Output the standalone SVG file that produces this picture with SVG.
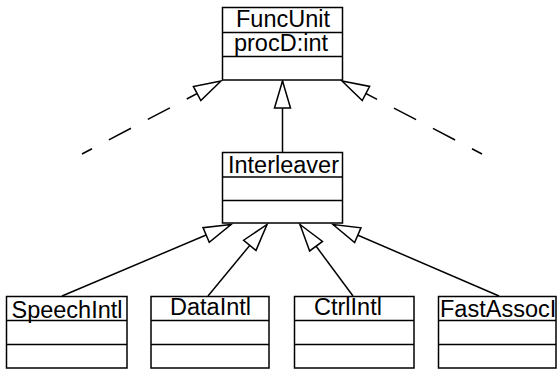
<svg xmlns="http://www.w3.org/2000/svg" width="557" height="372" viewBox="0 0 557 372">
  <style>
    .box { fill: #fff; stroke: #000; stroke-width: 1.5; }
    .div { stroke: #000; stroke-width: 1.5; }
    .lbl { font-family: "Liberation Sans", Arial, sans-serif; font-size: 23.5px; fill: #000; }
    .edge { fill: none; stroke: #000; stroke-width: 1.5; marker-end: url(#gen); }
    .dash { stroke-dasharray: 25 19; stroke-dashoffset: 13.7; }
  </style>
  <defs>
    <!-- hollow generalization triangle -->
    <marker id="gen" markerUnits="userSpaceOnUse" markerWidth="40" markerHeight="40" refX="0" refY="0" viewBox="-30 -20 40 40" orient="auto" overflow="visible">
      <path d="M0,0 L-27,-8 L-27,8 Z" fill="#fff" stroke="#000" stroke-width="1.5" stroke-linejoin="miter"/>
    </marker>
  </defs>

  <g id="connectors">
    <path class="edge" d="M282.5,152.5 L282.5,81"/>
    <path class="edge dash" d="M82,154 L221,81"/>
    <path class="edge dash" d="M482,154 L342,81"/>
    <path class="edge" d="M62,296 L231,224.5"/>
    <path class="edge" d="M208,296 L267,224.5"/>
    <path class="edge" d="M353,296 L300,224.5"/>
    <path class="edge" d="M499,296 L333,224.5"/>
  </g>

  <g id="FuncUnit">
    <rect class="box" x="222.5" y="7.5" width="120" height="72.5"/>
    <line class="div" x1="222.5" y1="32.5" x2="342.5" y2="32.5"/>
    <line class="div" x1="222.5" y1="56.5" x2="342.5" y2="56.5"/>
    <text class="lbl" x="283" y="27" text-anchor="middle">FuncUnit</text>
    <text class="lbl" x="281" y="51" text-anchor="middle">procD:int</text>
  </g>

  <g id="Interleaver">
    <rect class="box" x="222.5" y="152.5" width="120" height="70.5"/>
    <line class="div" x1="222.5" y1="177" x2="342.5" y2="177"/>
    <line class="div" x1="222.5" y1="200.5" x2="342.5" y2="200.5"/>
    <text class="lbl" x="283.5" y="173" text-anchor="middle">Interleaver</text>
  </g>

  <g id="SpeechIntl">
    <rect class="box" x="6.5" y="296.5" width="120.5" height="71.5"/>
    <line class="div" x1="6.5" y1="320.5" x2="127" y2="320.5"/>
    <line class="div" x1="6.5" y1="344.5" x2="127" y2="344.5"/>
    <text class="lbl" x="67" y="318" text-anchor="middle">SpeechIntl</text>
  </g>

  <g id="DataIntl">
    <rect class="box" x="151" y="296.5" width="118" height="71.5"/>
    <line class="div" x1="151" y1="320.5" x2="269" y2="320.5"/>
    <line class="div" x1="151" y1="344.5" x2="269" y2="344.5"/>
    <text class="lbl" x="210.5" y="315" text-anchor="middle">DataIntl</text>
  </g>

  <g id="CtrlIntl">
    <rect class="box" x="294.5" y="296.5" width="119.5" height="71.5"/>
    <line class="div" x1="294.5" y1="320.5" x2="414" y2="320.5"/>
    <line class="div" x1="294.5" y1="344.5" x2="414" y2="344.5"/>
    <text class="lbl" x="348" y="315" text-anchor="middle">CtrlIntl</text>
  </g>

  <g id="FastAssocI">
    <rect class="box" x="438.5" y="296.5" width="117.5" height="71.5"/>
    <line class="div" x1="438.5" y1="320.5" x2="556" y2="320.5"/>
    <line class="div" x1="438.5" y1="344.5" x2="556" y2="344.5"/>
    <text class="lbl" x="440" y="317">FastAssocI</text>
  </g>
</svg>
